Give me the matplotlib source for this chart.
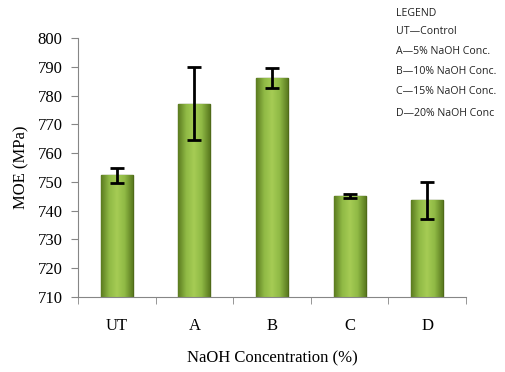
import matplotlib
matplotlib.use("Agg")
import matplotlib.pyplot as plt
import numpy as np
from matplotlib.colors import LinearSegmentedColormap

categories = ["UT", "A", "B", "C", "D"]
moe = [752.3, 777.1, 786.0, 745.1, 743.6]
err = [2.6, 12.7, 3.5, 0.8, 6.4]
legend_lines = ["LEGEND", "UT\u2014Control", "A\u20145% NaOH Conc.", "B\u201410% NaOH Conc.",
                "C\u201415% NaOH Conc.", "D\u201420% NaOH Conc"]

fig = plt.figure(figsize=(5.06, 3.72), dpi=100)
ax = fig.add_axes([78 / 506, 1 - 297 / 372, 388 / 506, 259 / 372])

serif = "Liberation Serif"
x = np.arange(len(categories))
width = 0.41
ymin = 710

bars = ax.bar(x, np.array(moe) - ymin, width, bottom=ymin, color="#8db53f",
              edgecolor="#4f6a18", linewidth=1.0, zorder=2)

# horizontal shading inside each bar
cmap = LinearSegmentedColormap.from_list("g", ["#5c7c20", "#8fb945", "#a6cc55", "#8fb945", "#5c7c20"])
grad = np.linspace(0, 1, 64).reshape(1, -1)
for b in bars:
    bx, by = b.get_x(), b.get_y()
    im = ax.imshow(grad, cmap=cmap, aspect="auto", zorder=2.1,
                   extent=[bx, bx + b.get_width(), by, by + b.get_height()])
    im.set_clip_path(b)

ax.errorbar(x, moe, yerr=err, fmt="none", ecolor="black", elinewidth=2,
            capsize=5, capthick=2, zorder=3)

ax.set_xlim(-0.5, len(categories) - 0.5)
ax.set_ylim(710, 800)
ax.set_yticks(np.arange(710, 801, 10))
ax.set_xticks(x)
ax.set_xticklabels(categories, fontfamily=serif, fontsize=12)
ax.set_xticks(np.arange(-0.5, len(categories), 1), minor=True)
ax.tick_params(axis="x", which="major", length=0, pad=15)
ax.tick_params(axis="x", which="minor", length=5, color="#868686", direction="out")
ax.tick_params(axis="y", length=5, color="#868686", direction="out", labelsize=12, pad=6)
for lab in ax.get_yticklabels():
    lab.set_fontfamily(serif)

for s in ["top", "right"]:
    ax.spines[s].set_visible(False)
for s in ["left", "bottom"]:
    ax.spines[s].set_color("#868686")

ax.set_xlabel("NaOH Concentration (%)", fontfamily=serif, fontsize=12, labelpad=12)
ax.set_ylabel("MOE (MPa)", fontfamily=serif, fontsize=12, labelpad=6)

ys = [13, 31, 51, 72, 92, 113]
for txt, yy in zip(legend_lines, ys):
    fig.text(396 / 506, 1 - yy / 372, txt, fontsize=7.6, fontfamily="Open Sans",
             color="#222222", va="center", ha="left")

fig.savefig("out.png", dpi=100)
